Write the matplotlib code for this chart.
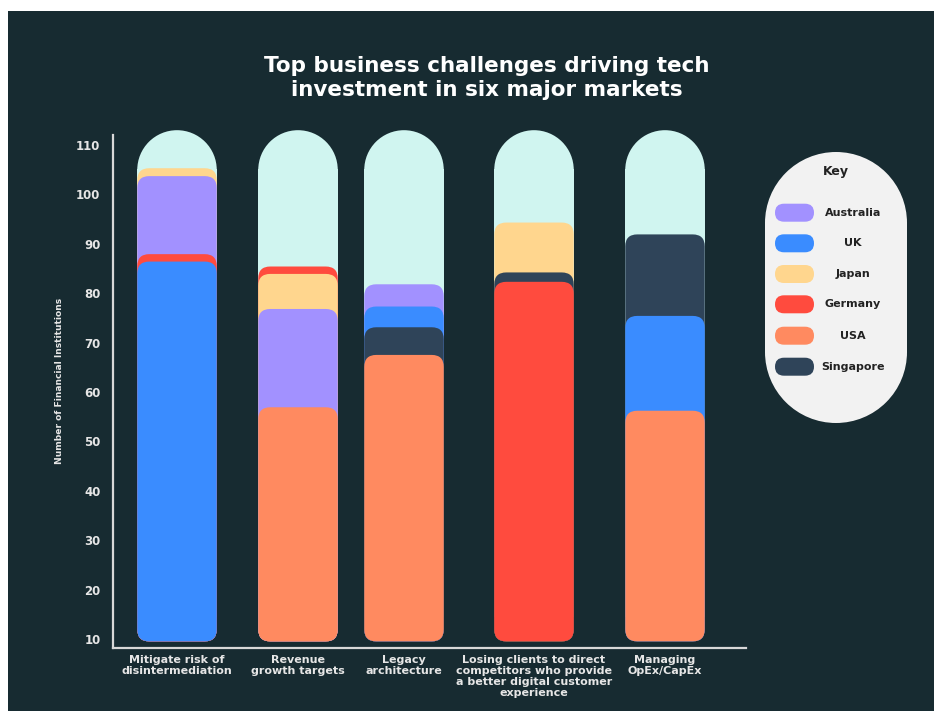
import matplotlib
matplotlib.use("Agg")
import matplotlib.pyplot as plt
from matplotlib.patches import FancyBboxPatch, Rectangle, Ellipse

# challenges on the x axis
categories = ["Mitigate risk of\ndisintermediation",
              "Revenue\ngrowth targets",
              "Legacy\narchitecture",
              "Losing clients to direct\ncompetitors who provide\na better digital customer\nexperience",
              "Managing\nOpEx/CapEx"]

countries = ["Australia", "UK", "Japan", "Germany", "USA", "Singapore"]

# segment size for each challenge (0 = not shown)
australia = [15.8, 19.9, 4.5, 0, 0]
uk = [76.9, 0, 4.2, 0, 19.2]
japan = [1.6, 7.1, 0, 10.1, 0]
germany = [1.5, 1.5, 0, 72.8, 0]
usa = [0, 47.4, 58.0, 0, 46.7]
singapore = [0, 0, 5.6, 1.9, 16.5]

# bottom-to-top stacking order in each bar
stack_order = [["UK", "Germany", "Australia", "Japan"],
               ["USA", "Australia", "Japan", "Germany"],
               ["USA", "Singapore", "UK", "Australia"],
               ["Germany", "Singapore", "Japan"],
               ["USA", "UK", "Singapore"]]

base = 9.5
cap = 113
yticks = [10, 20, 30, 40, 50, 60, 70, 80, 90, 100, 110]

values = {"Australia": australia, "UK": uk, "Japan": japan,
          "Germany": germany, "USA": usa, "Singapore": singapore}
colors = {"Australia": "#a291ff", "UK": "#3a8cff", "Japan": "#ffd68e",
          "Germany": "#ff4b3e", "USA": "#ff8a60", "Singapore": "#2f4459"}
bg = "#172b31"
pill = "#d0f5f0"

W, H = 934, 711
fig = plt.figure(figsize=(W / 100, H / 100), dpi=100, facecolor="white")
fig.patches.append(Rectangle((8 / W, 0), 1, 1 - 11 / H, transform=fig.transFigure,
                             facecolor=bg, edgecolor="none", zorder=-5))

# axes box in pixels: x 113..746, y 125..648
ax = fig.add_axes([113 / W, 1 - 648.3 / H, (746 - 113) / W, (648.3 - 125) / H])
ax.set_facecolor("none")
pos = [0.64, 1.85, 2.91, 4.21, 5.52]
ax.set_xlim(0, 6.33)
ax.set_ylim(8.1, 114.05)

px_x = (746 - 113) / 6.33
px_y = (648.3 - 125) / (114.05 - 8.1)
asp = px_x / px_y
bw = 0.795
ry = bw / 2 * asp  # cap radius in y units

for i, x in enumerate(pos):
    # light pill behind: straight body + round top
    ax.add_patch(Rectangle((x - bw / 2, base + 5), bw, cap - ry - base - 5 + 0.2,
                           facecolor=pill, edgecolor="none", zorder=1))
    ax.add_patch(Ellipse((x, cap - ry), bw, 2 * ry, facecolor=pill,
                         edgecolor="none", zorder=1))
    tops = []
    t = base
    for c in stack_order[i]:
        t += values[c][i]
        tops.append((c, t))
    for k, (c, t) in enumerate(reversed(tops)):
        ax.add_patch(FancyBboxPatch((x - bw / 2, base), bw, t - base,
                                    boxstyle="round,pad=0,rounding_size=%f" % (12 / px_x),
                                    mutation_aspect=asp, facecolor=colors[c],
                                    edgecolor="none", zorder=2 + k))

for s in ["top", "right"]:
    ax.spines[s].set_visible(False)
for s in ["left", "bottom"]:
    ax.spines[s].set_color("#d8d8d8")
    ax.spines[s].set_linewidth(1.6)
ax.spines["left"].set_bounds(8.1, 112)

ax.set_yticks(yticks)
ax.set_yticklabels([str(v) for v in yticks])
ax.set_xticks(pos)
ax.set_xticklabels(categories, linespacing=1.1)
ax.tick_params(axis="y", length=0, pad=9, labelsize=8.5, labelcolor="#e6e6e6")
ax.tick_params(axis="x", length=0, pad=5, labelsize=8, labelcolor="#e6e6e6")
for lab in ax.get_xticklabels() + ax.get_yticklabels():
    lab.set_fontweight("bold")

fig.text(60 / W, 1 - 381 / H, "Number of Financial Institutions", rotation=90,
         ha="center", va="center", color="#e6e6e6", fontsize=6.6, fontweight="bold")

fig.text(487 / W, 1 - 78 / H, "Top business challenges driving tech\ninvestment in six major markets",
         ha="center", va="center", color="white", fontsize=15.5, fontweight="bold",
         linespacing=1.2)

# legend pill (pixel units, y downwards)
lx0, lx1, ly0, ly1 = 765, 907, 152, 423
lw, lh = lx1 - lx0, ly1 - ly0
lax = fig.add_axes([lx0 / W, 1 - ly1 / H, lw / W, lh / H])
lax.set_xlim(0, lw)
lax.set_ylim(lh, 0)
lax.axis("off")
lr = lw / 2
lax.add_patch(Rectangle((0, lr - 1), lw, lh - 2 * lr + 2, facecolor="#f2f2f2", edgecolor="none"))
lax.add_patch(Ellipse((lr, lr), lw, lw, facecolor="#f2f2f2", edgecolor="none"))
lax.add_patch(Ellipse((lr, lh - lr), lw, lw, facecolor="#f2f2f2", edgecolor="none"))
lax.text(71, 20, "Key", ha="center", va="center", fontsize=9, fontweight="bold", color="#222222")
row_y = [60.7, 91.3, 122, 152.3, 183.7, 214.7]
for c, yy in zip(countries, row_y):
    lax.add_patch(FancyBboxPatch((10, yy - 9), 39, 18,
                                 boxstyle="round,pad=0,rounding_size=9",
                                 facecolor=colors[c], edgecolor="none"))
    lax.text(88, yy, c, ha="center", va="center", fontsize=8, fontweight="bold",
             color="#222222")

fig.savefig("out.png", dpi=100, facecolor="white")
